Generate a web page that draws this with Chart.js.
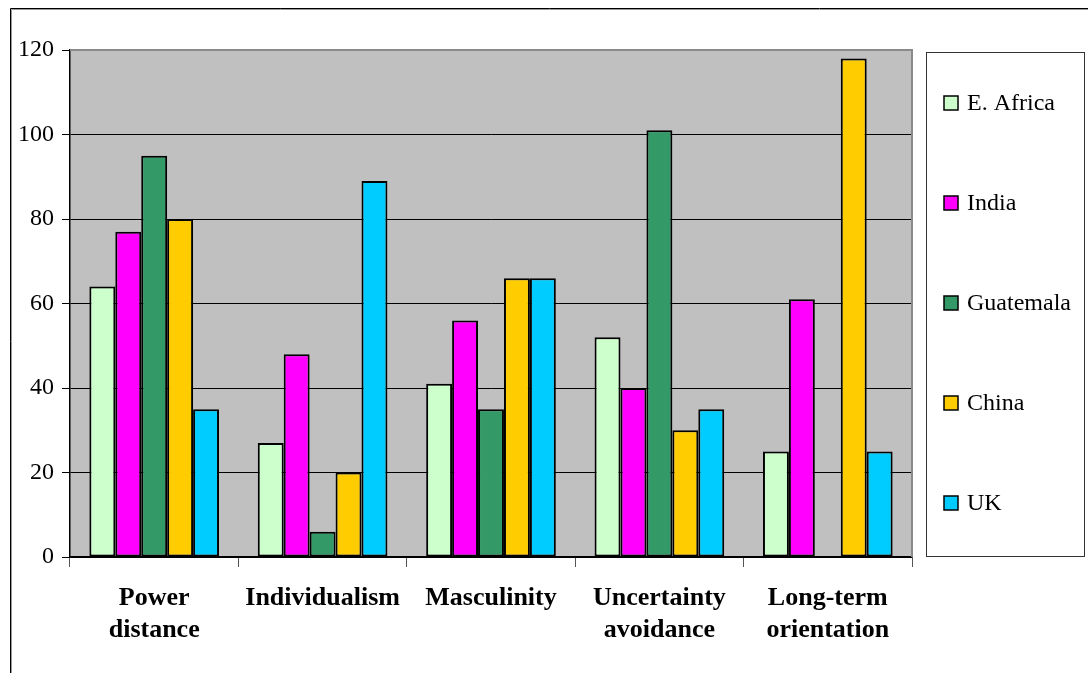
<!DOCTYPE html>
<html>
<head>
<meta charset="utf-8">
<script src="https://cdn.jsdelivr.net/npm/chart.js@4"></script>
<style>
  html, body { margin: 0; padding: 0; background: #fff; }
  #wrap { width: 1088px; height: 673px; }
</style>
</head>
<body>
<div id="wrap"><canvas id="dimChart" width="1088" height="673"></canvas></div>
<script>
// Hofstede dimension scores
var dimensions = [["Power", "distance"], "Individualism", "Masculinity", ["Uncertainty", "avoidance"], ["Long-term", "orientation"]];
var countries = ["E. Africa", "India", "Guatemala", "China", "UK"];
var eAfrica   = [64, 27, 41, 52, 25];
var india     = [77, 48, 56, 40, 61];
var guatemala = [95, 6, 35, 101, null];
var china     = [80, 20, 66, 30, 118];
var uk        = [35, 89, 66, 35, 25];
var colors = ["#CCFFCC", "#FF00FF", "#339966", "#FFCC00", "#00CCFF"];
var yTicks = [0, 20, 40, 60, 80, 100, 120];

Chart.defaults.font.family = "'Liberation Serif', 'Times New Roman', serif";
Chart.defaults.color = "#000";

var seriesValues = [eAfrica, india, guatemala, china, uk];

var frame = {
    id: 'frame',
    beforeDraw: function(chart) {
        var ctx = chart.ctx;
        var a = chart.chartArea;
        ctx.save();
        ctx.fillStyle = '#fff';
        ctx.fillRect(0, 0, chart.width, chart.height);
        // outer border (cut by the picture edge)
        ctx.strokeStyle = '#000';
        ctx.lineWidth = 1;
        ctx.beginPath();
        ctx.moveTo(10.5, chart.height + 5);
        ctx.lineTo(10.5, 8.5);
        ctx.lineTo(chart.width + 5, 8.5);
        ctx.stroke();
        ctx.strokeStyle = '#999';
        ctx.beginPath();
        ctx.moveTo(11.5, chart.height + 5);
        ctx.lineTo(11.5, 9.5);
        ctx.lineTo(chart.width + 5, 9.5);
        ctx.stroke();
        ctx.fillStyle = '#C0C0C0';
        ctx.fillRect(a.left, a.top, a.right - a.left, a.bottom - a.top);
        ctx.restore();
    },
    afterDraw: function(chart) {
        var ctx = chart.ctx;
        var a = chart.chartArea;
        ctx.save();
        ctx.strokeStyle = '#8a8a8a';
        ctx.lineWidth = 2;
        ctx.beginPath();
        ctx.moveTo(a.left, a.top);
        ctx.lineTo(a.right, a.top);
        ctx.lineTo(a.right, a.bottom);
        ctx.stroke();

        // legend box
        var lx = 926, ly = 52, lw = 158, lh = 504;
        ctx.fillStyle = '#fff';
        ctx.fillRect(lx, ly, lw, lh);
        ctx.strokeStyle = '#333';
        ctx.lineWidth = 1;
        ctx.strokeRect(lx + 0.5, ly + 0.5, lw, lh);
        ctx.font = "24px 'Liberation Serif', serif";
        ctx.textBaseline = 'middle';
        chart.data.datasets.forEach(function(ds, i) {
            var cy = 103 + i * 100;
            ctx.fillStyle = ds.backgroundColor;
            ctx.fillRect(944, cy - 7, 14, 14);
            ctx.strokeStyle = '#000';
            ctx.lineWidth = 1.5;
            ctx.strokeRect(944, cy - 7, 14, 14);
            ctx.fillStyle = '#000';
            ctx.fillText(ds.label, 967, cy + 1);
        });
        ctx.restore();
    }
};

new Chart(document.getElementById('dimChart'), {
    type: 'bar',
    data: {
        labels: dimensions,
        datasets: countries.map(function(name, i) {
            return {
                label: name,
                data: seriesValues[i],
                backgroundColor: colors[i],
                borderColor: '#000',
                borderWidth: 2,
                borderSkipped: false,
                categoryPercentage: 0.77,
                barPercentage: 1.0
            };
        })
    },
    options: {
        responsive: false,
        animation: false,
        layout: { padding: { left: 0, top: 50, right: 176, bottom: 0 } },
        plugins: {
            legend: { display: false },
            tooltip: { enabled: false }
        },
        scales: {
            x: {
                afterFit: function(s) { s.height = 116; },
                grid: { drawOnChartArea: false, drawTicks: true, tickLength: 10, tickColor: '#555', offset: true },
                border: { color: '#000', width: 1.5 },
                ticks: {
                    padding: 16,
                    maxRotation: 0,
                    autoSkip: false,
                    font: { size: 26, weight: 'bold', lineHeight: 1.2 }
                }
            },
            y: {
                min: 0,
                max: 120,
                afterFit: function(s) { s.width = 70; },
                afterBuildTicks: function(s) { s.ticks = yTicks.map(function(v) { return { value: v }; }); },
                grid: { color: '#000', lineWidth: 1, tickLength: 8, tickColor: '#000' },
                border: { color: '#000', width: 1.5 },
                ticks: { padding: 8, font: { size: 24 } }
            }
        }
    },
    plugins: [frame]
});
</script>
</body>
</html>
